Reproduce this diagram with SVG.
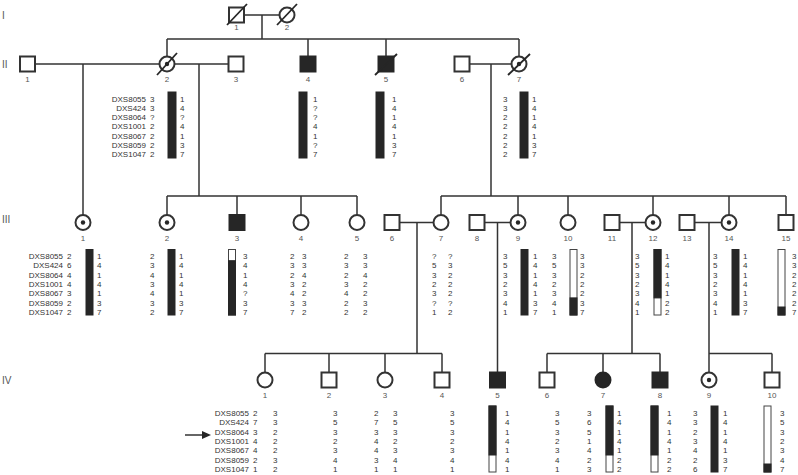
<svg xmlns="http://www.w3.org/2000/svg" width="798" height="475" viewBox="0 0 798 475">
<defs>
<style>
.ln{stroke:#333;stroke-width:1.5;fill:none}
.nd{stroke:#333;stroke-width:2;fill:#fff}
.af{stroke:#262626;stroke-width:2;fill:#262626}
.dt{fill:#262626}
.sl{stroke:#262626;stroke-width:1.8}
.bk{fill:#262626;stroke:#262626;stroke-width:1}
.wb{fill:#fff;stroke:#444;stroke-width:1}
.ol{fill:none;stroke:#444;stroke-width:1}
text{font-family:"Liberation Sans",Arial,sans-serif;font-size:8px;fill:#333}
.n{fill:#555;text-anchor:middle}
.g{font-size:10px;fill:#555}
.e{text-anchor:end}
</style>
</defs>
<rect width="798" height="475" fill="#fff"/>
<g id="generations">
<text class="g" x="2" y="19">I</text>
<text class="g" x="2" y="68">II</text>
<text class="g" x="2" y="223">III</text>
<text class="g" x="2" y="384">IV</text>
</g>
<g id="connectors">
<path class="ln" d="M244,15H279.5M262,15V39M167,39H519M167,39V56.5M308,39V56.5M386,39V56.5M519,39V56.5"/>
<path class="ln" d="M35,64H159.5M174.5,64H228.5M469.5,64H511.5M83,64V215M199,64V196M491,64V196"/>
<path class="ln" d="M167,196H357M167,196V215M237,196V215M301,196V215M357,196V215M441,196H786M441,196V215M518,196V215M568,196V215M653,196V215M729,196V215M786,196V215"/>
<path class="ln" d="M399.5,222.5H433.5M484.5,222.5H510.5M619.5,222.5H645.5M694.5,222.5H721.5M417,222.5V353.5M497.5,222.5V372.5M632,222.5V353.5M709,222.5V372.5"/>
<path class="ln" d="M265,353.5H442M265,353.5V372.5M329,353.5V372.5M385,353.5V372.5M442,353.5V372.5M547,353.5H660M547,353.5V372.5M603,353.5V372.5M660,353.5V372.5M709,353.5H772M772,353.5V372.5"/>
</g>
<g id="I-1"><rect class="nd" x="229" y="7.5" width="15" height="15"/><line class="sl" x1="227" y1="25" x2="247" y2="4"/><text class="n" x="236.5" y="30">1</text></g>
<g id="I-2"><circle class="nd" cx="287" cy="15" r="7.5"/><line class="sl" x1="277" y1="25" x2="297" y2="4"/><text class="n" x="287" y="30">2</text></g>
<g id="II-1"><rect class="nd" x="20" y="56.5" width="15" height="15"/><text class="n" x="27.5" y="82">1</text></g>
<g id="II-2"><circle class="nd" cx="167" cy="64" r="7.5"/><circle class="dt" cx="167" cy="64" r="2.2"/><line class="sl" x1="157" y1="75" x2="177" y2="53"/><text class="n" x="167" y="82">2</text></g>
<g id="II-3"><rect class="nd" x="228.5" y="56.5" width="15" height="15"/><text class="n" x="236" y="82">3</text></g>
<g id="II-4"><rect class="af" x="300.5" y="56.5" width="15" height="15"/><text class="n" x="308" y="82">4</text></g>
<g id="II-5"><rect class="af" x="378.5" y="56.5" width="15" height="15"/><line class="sl" x1="375" y1="75" x2="397" y2="54"/><text class="n" x="386" y="82">5</text></g>
<g id="II-6"><rect class="nd" x="454.5" y="56.5" width="15" height="15"/><text class="n" x="462" y="82">6</text></g>
<g id="II-7"><circle class="nd" cx="519" cy="64" r="7.5"/><circle class="dt" cx="519" cy="64" r="2.2"/><line class="sl" x1="508" y1="75" x2="530" y2="54"/><text class="n" x="519" y="82">7</text></g>
<g id="III-1"><circle class="nd" cx="83" cy="222.5" r="7.5"/><circle class="dt" cx="83" cy="222.5" r="2.2"/><text class="n" x="83" y="241">1</text></g>
<g id="III-2"><circle class="nd" cx="167" cy="222.5" r="7.5"/><circle class="dt" cx="167" cy="222.5" r="2.2"/><text class="n" x="167" y="241">2</text></g>
<g id="III-3"><rect class="af" x="229.5" y="215" width="15" height="15"/><text class="n" x="237" y="241">3</text></g>
<g id="III-4"><circle class="nd" cx="301" cy="222.5" r="7.5"/><text class="n" x="301" y="241">4</text></g>
<g id="III-5"><circle class="nd" cx="357" cy="222.5" r="7.5"/><text class="n" x="357" y="241">5</text></g>
<g id="III-6"><rect class="nd" x="384.5" y="215" width="15" height="15"/><text class="n" x="392" y="241">6</text></g>
<g id="III-7"><circle class="nd" cx="441" cy="222.5" r="7.5"/><text class="n" x="441" y="241">7</text></g>
<g id="III-8"><rect class="nd" x="469.5" y="215" width="15" height="15"/><text class="n" x="477" y="241">8</text></g>
<g id="III-9"><circle class="nd" cx="518" cy="222.5" r="7.5"/><circle class="dt" cx="518" cy="222.5" r="2.2"/><text class="n" x="518" y="241">9</text></g>
<g id="III-10"><circle class="nd" cx="568" cy="222.5" r="7.5"/><text class="n" x="568" y="241">10</text></g>
<g id="III-11"><rect class="nd" x="604.5" y="215" width="15" height="15"/><text class="n" x="612" y="241">11</text></g>
<g id="III-12"><circle class="nd" cx="653" cy="222.5" r="7.5"/><circle class="dt" cx="653" cy="222.5" r="2.2"/><text class="n" x="653" y="241">12</text></g>
<g id="III-13"><rect class="nd" x="679.5" y="215" width="15" height="15"/><text class="n" x="687" y="241">13</text></g>
<g id="III-14"><circle class="nd" cx="729" cy="222.5" r="7.5"/><circle class="dt" cx="729" cy="222.5" r="2.2"/><text class="n" x="729" y="241">14</text></g>
<g id="III-15"><rect class="nd" x="778.5" y="215" width="15" height="15"/><text class="n" x="786" y="241">15</text></g>
<g id="IV-1"><circle class="nd" cx="265" cy="380" r="7.5"/><text class="n" x="265" y="398">1</text></g>
<g id="IV-2"><rect class="nd" x="321.5" y="372.5" width="15" height="15"/><text class="n" x="329" y="398">2</text></g>
<g id="IV-3"><circle class="nd" cx="385" cy="380" r="7.5"/><text class="n" x="385" y="398">3</text></g>
<g id="IV-4"><rect class="nd" x="434.5" y="372.5" width="15" height="15"/><text class="n" x="442" y="398">4</text></g>
<g id="IV-5"><rect class="af" x="490" y="372.5" width="15" height="15"/><text class="n" x="497.5" y="398">5</text></g>
<g id="IV-6"><rect class="nd" x="539.5" y="372.5" width="15" height="15"/><text class="n" x="547" y="398">6</text></g>
<g id="IV-7"><circle class="af" cx="603" cy="380" r="7.5"/><text class="n" x="603" y="398">7</text></g>
<g id="IV-8"><rect class="af" x="652.5" y="372.5" width="15" height="15"/><text class="n" x="660" y="398">8</text></g>
<g id="IV-9"><circle class="nd" cx="709" cy="380" r="7.5"/><circle class="dt" cx="709" cy="380" r="2.2"/><text class="n" x="709" y="398">9</text></g>
<g id="IV-10"><rect class="nd" x="764.5" y="372.5" width="15" height="15"/><text class="n" x="772" y="398">10</text></g>

<g id="haplotypes-II">
<text class="e" x="146" y="101.5"><tspan x="146">DXS8055</tspan><tspan x="146" dy="9.3">DXS424</tspan><tspan x="146" dy="9.3">DXS8064</tspan><tspan x="146" dy="9.3">DXS1001</tspan><tspan x="146" dy="9.3">DXS8067</tspan><tspan x="146" dy="9.3">DXS8059</tspan><tspan x="146" dy="9.3">DXS1047</tspan></text>
<text x="150" y="101.5"><tspan x="150">3</tspan><tspan x="150" dy="9.3">3</tspan><tspan x="150" dy="9.3">?</tspan><tspan x="150" dy="9.3">2</tspan><tspan x="150" dy="9.3">2</tspan><tspan x="150" dy="9.3">2</tspan><tspan x="150" dy="9.3">2</tspan></text>
<rect class="bk" x="168" y="92" width="8" height="66"/>
<text x="180" y="101.5"><tspan x="180">1</tspan><tspan x="180" dy="9.3">4</tspan><tspan x="180" dy="9.3">?</tspan><tspan x="180" dy="9.3">4</tspan><tspan x="180" dy="9.3">1</tspan><tspan x="180" dy="9.3">3</tspan><tspan x="180" dy="9.3">7</tspan></text>
<rect class="bk" x="299" y="92" width="8" height="66"/>
<text x="313" y="101.5"><tspan x="313">1</tspan><tspan x="313" dy="9.3">?</tspan><tspan x="313" dy="9.3">?</tspan><tspan x="313" dy="9.3">4</tspan><tspan x="313" dy="9.3">1</tspan><tspan x="313" dy="9.3">?</tspan><tspan x="313" dy="9.3">7</tspan></text>
<rect class="bk" x="376" y="92" width="8" height="66"/>
<text x="392" y="101.5"><tspan x="392">1</tspan><tspan x="392" dy="9.3">4</tspan><tspan x="392" dy="9.3">1</tspan><tspan x="392" dy="9.3">4</tspan><tspan x="392" dy="9.3">1</tspan><tspan x="392" dy="9.3">3</tspan><tspan x="392" dy="9.3">7</tspan></text>
<text x="503" y="101.5"><tspan x="503">3</tspan><tspan x="503" dy="9.3">3</tspan><tspan x="503" dy="9.3">2</tspan><tspan x="503" dy="9.3">2</tspan><tspan x="503" dy="9.3">2</tspan><tspan x="503" dy="9.3">2</tspan><tspan x="503" dy="9.3">2</tspan></text>
<rect class="bk" x="520" y="92" width="8" height="66"/>
<text x="532" y="101.5"><tspan x="532">1</tspan><tspan x="532" dy="9.3">4</tspan><tspan x="532" dy="9.3">1</tspan><tspan x="532" dy="9.3">4</tspan><tspan x="532" dy="9.3">1</tspan><tspan x="532" dy="9.3">3</tspan><tspan x="532" dy="9.3">7</tspan></text>
</g>

<g id="haplotypes-III">
<text class="e" x="63" y="259"><tspan x="63">DXS8055</tspan><tspan x="63" dy="9.3">DXS424</tspan><tspan x="63" dy="9.3">DXS8064</tspan><tspan x="63" dy="9.3">DXS1001</tspan><tspan x="63" dy="9.3">DXS8067</tspan><tspan x="63" dy="9.3">DXS8059</tspan><tspan x="63" dy="9.3">DXS1047</tspan></text>
<text x="67" y="259"><tspan x="67">2</tspan><tspan x="67" dy="9.3">6</tspan><tspan x="67" dy="9.3">4</tspan><tspan x="67" dy="9.3">4</tspan><tspan x="67" dy="9.3">3</tspan><tspan x="67" dy="9.3">2</tspan><tspan x="67" dy="9.3">2</tspan></text>
<rect class="bk" x="86" y="249.5" width="7" height="65.5"/>
<text x="97" y="259"><tspan x="97">1</tspan><tspan x="97" dy="9.3">4</tspan><tspan x="97" dy="9.3">1</tspan><tspan x="97" dy="9.3">4</tspan><tspan x="97" dy="9.3">1</tspan><tspan x="97" dy="9.3">3</tspan><tspan x="97" dy="9.3">7</tspan></text>
<text x="150" y="259"><tspan x="150">2</tspan><tspan x="150" dy="9.3">3</tspan><tspan x="150" dy="9.3">4</tspan><tspan x="150" dy="9.3">3</tspan><tspan x="150" dy="9.3">4</tspan><tspan x="150" dy="9.3">3</tspan><tspan x="150" dy="9.3">2</tspan></text>
<rect class="bk" x="168" y="249.5" width="7" height="65.5"/>
<text x="179" y="259"><tspan x="179">1</tspan><tspan x="179" dy="9.3">4</tspan><tspan x="179" dy="9.3">1</tspan><tspan x="179" dy="9.3">4</tspan><tspan x="179" dy="9.3">1</tspan><tspan x="179" dy="9.3">3</tspan><tspan x="179" dy="9.3">7</tspan></text>
<rect class="wb" x="228.5" y="249.5" width="7" height="65.5"/><rect class="bk" x="228.5" y="260.7" width="7" height="54.3"/>
<text x="243" y="259"><tspan x="243">3</tspan><tspan x="243" dy="9.3">4</tspan><tspan x="243" dy="9.3">1</tspan><tspan x="243" dy="9.3">4</tspan><tspan x="243" dy="9.3">?</tspan><tspan x="243" dy="9.3">3</tspan><tspan x="243" dy="9.3">7</tspan></text>
<text x="290" y="259"><tspan x="290">2</tspan><tspan x="290" dy="9.3">3</tspan><tspan x="290" dy="9.3">2</tspan><tspan x="290" dy="9.3">3</tspan><tspan x="290" dy="9.3">4</tspan><tspan x="290" dy="9.3">3</tspan><tspan x="290" dy="9.3">7</tspan></text>
<text x="302" y="259"><tspan x="302">3</tspan><tspan x="302" dy="9.3">3</tspan><tspan x="302" dy="9.3">4</tspan><tspan x="302" dy="9.3">2</tspan><tspan x="302" dy="9.3">2</tspan><tspan x="302" dy="9.3">3</tspan><tspan x="302" dy="9.3">2</tspan></text>
<text x="344" y="259"><tspan x="344">2</tspan><tspan x="344" dy="9.3">3</tspan><tspan x="344" dy="9.3">2</tspan><tspan x="344" dy="9.3">3</tspan><tspan x="344" dy="9.3">4</tspan><tspan x="344" dy="9.3">2</tspan><tspan x="344" dy="9.3">2</tspan></text>
<text x="363" y="259"><tspan x="363">3</tspan><tspan x="363" dy="9.3">3</tspan><tspan x="363" dy="9.3">4</tspan><tspan x="363" dy="9.3">2</tspan><tspan x="363" dy="9.3">2</tspan><tspan x="363" dy="9.3">3</tspan><tspan x="363" dy="9.3">2</tspan></text>
<text x="432" y="259"><tspan x="432">?</tspan><tspan x="432" dy="9.3">5</tspan><tspan x="432" dy="9.3">3</tspan><tspan x="432" dy="9.3">2</tspan><tspan x="432" dy="9.3">3</tspan><tspan x="432" dy="9.3">?</tspan><tspan x="432" dy="9.3">1</tspan></text>
<text x="448" y="259"><tspan x="448">?</tspan><tspan x="448" dy="9.3">3</tspan><tspan x="448" dy="9.3">2</tspan><tspan x="448" dy="9.3">2</tspan><tspan x="448" dy="9.3">2</tspan><tspan x="448" dy="9.3">?</tspan><tspan x="448" dy="9.3">2</tspan></text>
<text x="503" y="259"><tspan x="503">3</tspan><tspan x="503" dy="9.3">5</tspan><tspan x="503" dy="9.3">3</tspan><tspan x="503" dy="9.3">2</tspan><tspan x="503" dy="9.3">3</tspan><tspan x="503" dy="9.3">4</tspan><tspan x="503" dy="9.3">1</tspan></text>
<rect class="bk" x="521" y="249.5" width="7" height="65.5"/>
<text x="533" y="259"><tspan x="533">1</tspan><tspan x="533" dy="9.3">4</tspan><tspan x="533" dy="9.3">1</tspan><tspan x="533" dy="9.3">4</tspan><tspan x="533" dy="9.3">1</tspan><tspan x="533" dy="9.3">3</tspan><tspan x="533" dy="9.3">7</tspan></text>
<text x="552" y="259"><tspan x="552">3</tspan><tspan x="552" dy="9.3">5</tspan><tspan x="552" dy="9.3">3</tspan><tspan x="552" dy="9.3">2</tspan><tspan x="552" dy="9.3">3</tspan><tspan x="552" dy="9.3">4</tspan><tspan x="552" dy="9.3">1</tspan></text>
<rect class="wb" x="570" y="249.5" width="7" height="65.5"/><rect class="bk" x="570" y="297.9" width="7" height="17.1"/>
<text x="580" y="259"><tspan x="580">3</tspan><tspan x="580" dy="9.3">3</tspan><tspan x="580" dy="9.3">2</tspan><tspan x="580" dy="9.3">2</tspan><tspan x="580" dy="9.3">2</tspan><tspan x="580" dy="9.3">3</tspan><tspan x="580" dy="9.3">7</tspan></text>
<text x="635" y="259"><tspan x="635">3</tspan><tspan x="635" dy="9.3">5</tspan><tspan x="635" dy="9.3">3</tspan><tspan x="635" dy="9.3">2</tspan><tspan x="635" dy="9.3">3</tspan><tspan x="635" dy="9.3">4</tspan><tspan x="635" dy="9.3">1</tspan></text>
<rect class="wb" x="654" y="249.5" width="7" height="65.5"/><rect class="bk" x="654" y="249.5" width="7" height="48.4"/>
<text x="665" y="259"><tspan x="665">1</tspan><tspan x="665" dy="9.3">4</tspan><tspan x="665" dy="9.3">1</tspan><tspan x="665" dy="9.3">4</tspan><tspan x="665" dy="9.3">1</tspan><tspan x="665" dy="9.3">2</tspan><tspan x="665" dy="9.3">2</tspan></text>
<text x="713" y="259"><tspan x="713">3</tspan><tspan x="713" dy="9.3">5</tspan><tspan x="713" dy="9.3">3</tspan><tspan x="713" dy="9.3">2</tspan><tspan x="713" dy="9.3">3</tspan><tspan x="713" dy="9.3">4</tspan><tspan x="713" dy="9.3">1</tspan></text>
<rect class="bk" x="732" y="249.5" width="7" height="65.5"/>
<text x="743" y="259"><tspan x="743">1</tspan><tspan x="743" dy="9.3">4</tspan><tspan x="743" dy="9.3">1</tspan><tspan x="743" dy="9.3">4</tspan><tspan x="743" dy="9.3">1</tspan><tspan x="743" dy="9.3">3</tspan><tspan x="743" dy="9.3">7</tspan></text>
<rect class="wb" x="778" y="249.5" width="7" height="65.5"/><rect class="bk" x="778" y="307" width="7" height="8"/>
<text x="792" y="259"><tspan x="792">3</tspan><tspan x="792" dy="9.3">3</tspan><tspan x="792" dy="9.3">2</tspan><tspan x="792" dy="9.3">2</tspan><tspan x="792" dy="9.3">2</tspan><tspan x="792" dy="9.3">2</tspan><tspan x="792" dy="9.3">7</tspan></text>
</g>

<g id="haplotypes-IV">
<line class="ln" x1="185" y1="435" x2="204" y2="435"/><polygon points="211,435 202,431 202,439" fill="#262626"/>
<text class="e" x="249" y="416"><tspan x="249">DXS8055</tspan><tspan x="249" dy="9.3">DXS424</tspan><tspan x="249" dy="9.3">DXS8064</tspan><tspan x="249" dy="9.3">DXS1001</tspan><tspan x="249" dy="9.3">DXS8067</tspan><tspan x="249" dy="9.3">DXS8059</tspan><tspan x="249" dy="9.3">DXS1047</tspan></text>
<text x="253" y="416"><tspan x="253">2</tspan><tspan x="253" dy="9.3">7</tspan><tspan x="253" dy="9.3">3</tspan><tspan x="253" dy="9.3">4</tspan><tspan x="253" dy="9.3">4</tspan><tspan x="253" dy="9.3">2</tspan><tspan x="253" dy="9.3">1</tspan></text>
<text x="273" y="416"><tspan x="273">3</tspan><tspan x="273" dy="9.3">3</tspan><tspan x="273" dy="9.3">2</tspan><tspan x="273" dy="9.3">2</tspan><tspan x="273" dy="9.3">2</tspan><tspan x="273" dy="9.3">3</tspan><tspan x="273" dy="9.3">2</tspan></text>
<text x="333" y="416"><tspan x="333">3</tspan><tspan x="333" dy="9.3">5</tspan><tspan x="333" dy="9.3">3</tspan><tspan x="333" dy="9.3">2</tspan><tspan x="333" dy="9.3">3</tspan><tspan x="333" dy="9.3">4</tspan><tspan x="333" dy="9.3">1</tspan></text>
<text x="374" y="416"><tspan x="374">2</tspan><tspan x="374" dy="9.3">7</tspan><tspan x="374" dy="9.3">3</tspan><tspan x="374" dy="9.3">4</tspan><tspan x="374" dy="9.3">4</tspan><tspan x="374" dy="9.3">3</tspan><tspan x="374" dy="9.3">1</tspan></text>
<text x="393" y="416"><tspan x="393">3</tspan><tspan x="393" dy="9.3">5</tspan><tspan x="393" dy="9.3">3</tspan><tspan x="393" dy="9.3">2</tspan><tspan x="393" dy="9.3">3</tspan><tspan x="393" dy="9.3">4</tspan><tspan x="393" dy="9.3">1</tspan></text>
<text x="450" y="416"><tspan x="450">3</tspan><tspan x="450" dy="9.3">5</tspan><tspan x="450" dy="9.3">3</tspan><tspan x="450" dy="9.3">2</tspan><tspan x="450" dy="9.3">3</tspan><tspan x="450" dy="9.3">4</tspan><tspan x="450" dy="9.3">1</tspan></text>
<rect class="wb" x="489" y="406" width="7" height="66"/><rect class="bk" x="489" y="406" width="7" height="49"/>
<text x="505" y="416"><tspan x="505">1</tspan><tspan x="505" dy="9.3">4</tspan><tspan x="505" dy="9.3">1</tspan><tspan x="505" dy="9.3">4</tspan><tspan x="505" dy="9.3">1</tspan><tspan x="505" dy="9.3">4</tspan><tspan x="505" dy="9.3">1</tspan></text>
<text x="555" y="416"><tspan x="555">3</tspan><tspan x="555" dy="9.3">5</tspan><tspan x="555" dy="9.3">3</tspan><tspan x="555" dy="9.3">2</tspan><tspan x="555" dy="9.3">3</tspan><tspan x="555" dy="9.3">4</tspan><tspan x="555" dy="9.3">1</tspan></text>
<text x="587" y="416"><tspan x="587">3</tspan><tspan x="587" dy="9.3">6</tspan><tspan x="587" dy="9.3">5</tspan><tspan x="587" dy="9.3">1</tspan><tspan x="587" dy="9.3">4</tspan><tspan x="587" dy="9.3">2</tspan><tspan x="587" dy="9.3">3</tspan></text>
<rect class="wb" x="606" y="406" width="7" height="66"/><rect class="bk" x="606" y="406" width="7" height="49"/>
<text x="617" y="416"><tspan x="617">1</tspan><tspan x="617" dy="9.3">4</tspan><tspan x="617" dy="9.3">1</tspan><tspan x="617" dy="9.3">4</tspan><tspan x="617" dy="9.3">1</tspan><tspan x="617" dy="9.3">2</tspan><tspan x="617" dy="9.3">2</tspan></text>
<rect class="wb" x="651" y="406" width="7" height="66"/><rect class="bk" x="651" y="406" width="7" height="49"/>
<text x="667" y="416"><tspan x="667">1</tspan><tspan x="667" dy="9.3">4</tspan><tspan x="667" dy="9.3">1</tspan><tspan x="667" dy="9.3">4</tspan><tspan x="667" dy="9.3">1</tspan><tspan x="667" dy="9.3">2</tspan><tspan x="667" dy="9.3">2</tspan></text>
<text x="693" y="416"><tspan x="693">3</tspan><tspan x="693" dy="9.3">3</tspan><tspan x="693" dy="9.3">2</tspan><tspan x="693" dy="9.3">3</tspan><tspan x="693" dy="9.3">4</tspan><tspan x="693" dy="9.3">2</tspan><tspan x="693" dy="9.3">6</tspan></text>
<rect class="bk" x="711" y="406" width="7" height="66"/>
<text x="723" y="416"><tspan x="723">1</tspan><tspan x="723" dy="9.3">4</tspan><tspan x="723" dy="9.3">1</tspan><tspan x="723" dy="9.3">4</tspan><tspan x="723" dy="9.3">1</tspan><tspan x="723" dy="9.3">3</tspan><tspan x="723" dy="9.3">7</tspan></text>
<rect class="wb" x="764" y="406" width="7" height="66"/><rect class="bk" x="764" y="464" width="7" height="8"/>
<text x="780" y="416"><tspan x="780">3</tspan><tspan x="780" dy="9.3">5</tspan><tspan x="780" dy="9.3">3</tspan><tspan x="780" dy="9.3">2</tspan><tspan x="780" dy="9.3">3</tspan><tspan x="780" dy="9.3">4</tspan><tspan x="780" dy="9.3">7</tspan></text>
</g>
</svg>
